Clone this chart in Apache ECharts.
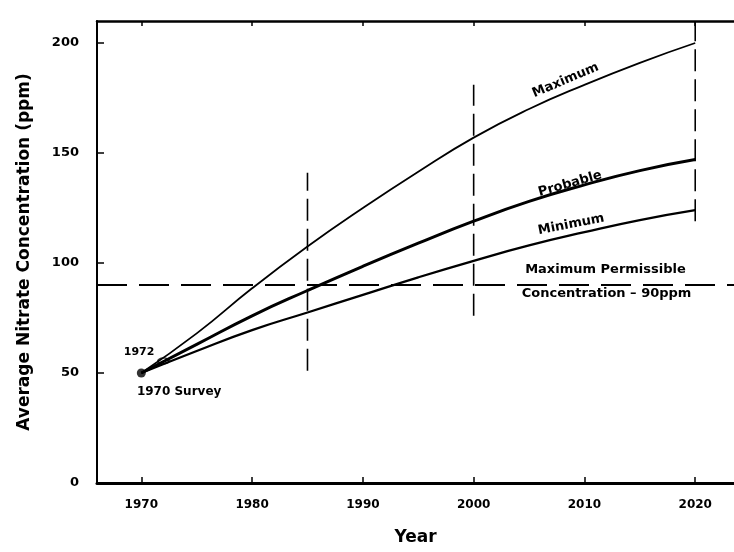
<!DOCTYPE html>
<html><head><meta charset="utf-8">
<script src="https://cdn.jsdelivr.net/npm/echarts@6/dist/echarts.min.js"></script>
<style>html,body{margin:0;padding:0;background:#fff}#c{width:734px;height:552px}</style>
</head><body><div id="c"></div>
<script>
const years = [1970,1975,1980,1985,1990,1995,2000,2005,2010,2015,2020];
const maximum = [50,68,88.5,107.5,125,141.5,157,170,181,191,200];
const probable = [50,63,76,87.5,98.5,109,119,128,135.5,142,147];
const minimum = [50,60,69.5,77.5,85.5,93.5,101,108,114,119.5,124];
const xTicks = [1970,1980,1990,2000,2010,2020];
const yTicks = [0,50,100,150,200];
const permissible = 90;
const refYears = [1985,2000,2020];
const refLow = [51,76,119];
const refHigh = [141,181,210];
const survey = [1970,50];
const obs1972 = [1972,55.5];

const FONT = '"DejaVu Sans", sans-serif';
const X_MIN = 1966, X_MAX = 2023.5, Y_MIN = 0, Y_MAX = 210;

const pairs = (xs, ys) => xs.map((x, i) => [x, ys[i]]);

const curve = (name, vals, width) => ({
  type:'line', name:name, data:pairs(years, vals), smooth:0.5,
  symbol:'none', lineStyle:{color:'#000', width:width}, z:5
});

const series = [
  curve('Maximum', maximum, 1.8),
  curve('Probable', probable, 3),
  curve('Minimum', minimum, 2.3),
  {type:'line', name:'Permissible', data:[[X_MIN, permissible],[X_MAX, permissible]], symbol:'none',
   lineStyle:{color:'#000', width:2, type:[30,12]}, z:3}
];
refYears.forEach((y, i) => {
  series.push({type:'line', data:[[y, refLow[i]],[y, refHigh[i]]], symbol:'none',
    lineStyle:{color:'#000', width:1.6, type:[22,8]}, z:3});
});
series.push({type:'scatter', data:[survey], symbol:'circle', symbolSize:9,
  itemStyle:{color:'#000'}, z:6});
series.push({type:'scatter', data:[obs1972], symbol:'circle', symbolSize:[11,6],
  itemStyle:{color:'rgba(0,0,0,0)', borderColor:'#000', borderWidth:1.5}, z:6});

const chart = echarts.init(document.getElementById('c'), null, {renderer:'canvas'});
chart.setOption({
  backgroundColor:'#fff',
  animation:false,
  grid:{left:97, right:0, top:21, bottom:69},
  xAxis:[{
    type:'value', min:X_MIN, max:X_MAX, position:'bottom',
    name:'Year', nameLocation:'middle', nameGap:46,
    nameTextStyle:{fontFamily:FONT, fontWeight:'bold', fontSize:17, color:'#000'},
    axisLine:{show:true, lineStyle:{color:'#000', width:3}},
    axisTick:{show:true, inside:true, length:6, customValues:xTicks, lineStyle:{color:'#000', width:1.5}},
    axisLabel:{customValues:xTicks, margin:16, fontFamily:FONT, fontWeight:'bold', fontSize:12, color:'#000',
      formatter: v => String(v)},
    splitLine:{show:false}
  },{
    type:'value', min:X_MIN, max:X_MAX, position:'top',
    axisLine:{show:true, lineStyle:{color:'#000', width:2.5}},
    axisTick:{show:true, inside:true, length:5, customValues:xTicks, lineStyle:{color:'#000', width:1.5}},
    axisLabel:{show:false}, splitLine:{show:false}
  }],
  yAxis:{
    type:'value', min:Y_MIN, max:Y_MAX,
    name:'Average Nitrate Concentration (ppm)', nameLocation:'middle', nameGap:64, nameRotate:90,
    nameTextStyle:{fontFamily:FONT, fontWeight:'bold', fontSize:17, color:'#000'},
    axisLine:{show:true, lineStyle:{color:'#000', width:2}},
    axisTick:{show:true, inside:true, length:7, customValues:yTicks, lineStyle:{color:'#000', width:1.5}},
    axisLabel:{customValues:yTicks, margin:18, fontFamily:FONT, fontWeight:'bold', fontSize:13, color:'#000',
      formatter: v => String(v)},
    splitLine:{show:false}
  },
  series: series
});

const notes = [
  {text:'Maximum', at:[2008.3,183], rot:23, size:13},
  {text:'Probable', at:[2008.7,136], rot:16, size:13},
  {text:'Minimum', at:[2008.8,117.5], rot:11, size:13},
  {text:'Maximum Permissible', at:[2011.9,96.8], rot:0, size:13},
  {text:'Concentration \u2013 90ppm', at:[2012.0,85.9], rot:0, size:13},
  {text:'1972', at:[1969.8,59.5], rot:0, size:11},
  {text:'1970 Survey', at:[1969.6,41.4], rot:0, size:12, align:'left'}
];
chart.setOption({
  graphic: notes.map(n => {
    const p = chart.convertToPixel({xAxisIndex:0, yAxisIndex:0}, n.at);
    return {type:'text', x:p[0], y:p[1], rotation:n.rot*Math.PI/180, z:10,
      style:{text:n.text, fill:'#000', font:'bold ' + n.size + 'px ' + FONT,
        align:n.align || 'center', verticalAlign:'middle'}};
  })
});
</script>
</body></html>
